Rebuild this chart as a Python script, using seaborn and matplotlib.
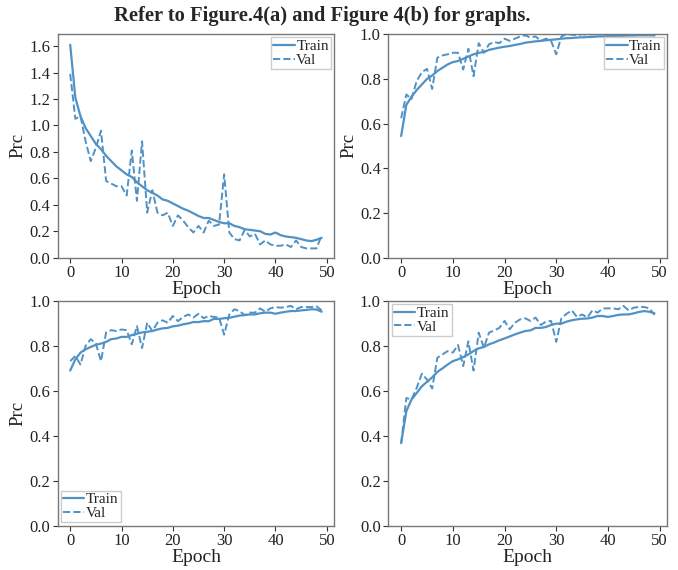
import numpy as np
import pandas as pd
import matplotlib
matplotlib.use('Agg')
import matplotlib.pyplot as plt
import seaborn as sns

# ---- data (epochs 0..49) ----
epochs = list(range(50))

a_train = [1.61, 1.21, 1.07, 0.98, 0.92, 0.86, 0.82, 0.77, 0.73, 0.69,
           0.66, 0.63, 0.61, 0.57, 0.54, 0.51, 0.49, 0.47, 0.44, 0.43,
           0.41, 0.39, 0.37, 0.355, 0.335, 0.315, 0.30, 0.30, 0.285, 0.27,
           0.26, 0.26, 0.24, 0.23, 0.215, 0.21, 0.205, 0.20, 0.18, 0.175,
           0.19, 0.17, 0.16, 0.155, 0.15, 0.14, 0.13, 0.125, 0.135, 0.15]
a_val = [1.39, 1.05, 1.07, 0.88, 0.73, 0.83, 0.96, 0.58, 0.56, 0.54,
         0.54, 0.47, 0.81, 0.43, 0.88, 0.34, 0.51, 0.34, 0.32, 0.34,
         0.24, 0.32, 0.28, 0.23, 0.19, 0.24, 0.19, 0.28, 0.24, 0.25,
         0.63, 0.19, 0.14, 0.13, 0.21, 0.16, 0.18, 0.10, 0.13, 0.10,
         0.09, 0.09, 0.10, 0.08, 0.13, 0.08, 0.07, 0.07, 0.07, 0.17]

b_train = [0.544, 0.684, 0.72, 0.75, 0.775, 0.80, 0.815, 0.835, 0.85, 0.865,
           0.875, 0.88, 0.89, 0.90, 0.91, 0.917, 0.92, 0.93, 0.935, 0.94,
           0.944, 0.947, 0.952, 0.956, 0.962, 0.965, 0.968, 0.97, 0.973, 0.975,
           0.977, 0.98, 0.982, 0.983, 0.985, 0.986, 0.987, 0.988, 0.99, 0.99,
           0.992, 0.992, 0.993, 0.993, 0.994, 0.994, 0.995, 0.995, 0.995, 0.994]
b_val = [0.624, 0.73, 0.71, 0.79, 0.83, 0.845, 0.755, 0.895, 0.905, 0.91,
         0.917, 0.917, 0.842, 0.935, 0.812, 0.96, 0.917, 0.955, 0.965, 0.96,
         0.98, 0.97, 0.98, 0.99, 0.995, 0.985, 0.99, 0.97, 0.98, 0.97,
         0.91, 0.99, 1.0, 0.998, 0.995, 1.0, 0.998, 1.0, 0.999, 1.0,
         0.999, 1.0, 0.999, 1.0, 0.999, 1.0, 0.999, 1.0, 1.0, 0.999]

c_train = [0.69, 0.74, 0.77, 0.785, 0.795, 0.805, 0.81, 0.818, 0.83, 0.833,
           0.84, 0.84, 0.848, 0.854, 0.86, 0.863, 0.866, 0.873, 0.878, 0.88,
           0.887, 0.89, 0.896, 0.90, 0.906, 0.906, 0.91, 0.91, 0.92, 0.92,
           0.923, 0.925, 0.93, 0.935, 0.937, 0.94, 0.94, 0.945, 0.948, 0.948,
           0.943, 0.948, 0.952, 0.955, 0.955, 0.958, 0.96, 0.963, 0.962, 0.952]
c_val = [0.732, 0.755, 0.717, 0.80, 0.83, 0.81, 0.732, 0.86, 0.87, 0.866,
         0.873, 0.87, 0.807, 0.888, 0.79, 0.903, 0.866, 0.903, 0.914, 0.903,
         0.933, 0.91, 0.929, 0.94, 0.926, 0.943, 0.923, 0.933, 0.929, 0.926,
         0.85, 0.94, 0.963, 0.955, 0.937, 0.948, 0.948, 0.967, 0.952, 0.967,
         0.973, 0.97, 0.973, 0.978, 0.963, 0.973, 0.973, 0.973, 0.976, 0.958]

d_train = [0.367, 0.509, 0.561, 0.59, 0.62, 0.64, 0.66, 0.684, 0.70, 0.717,
           0.732, 0.74, 0.75, 0.762, 0.777, 0.789, 0.795, 0.807, 0.815, 0.825,
           0.833, 0.842, 0.851, 0.859, 0.866, 0.869, 0.88, 0.88, 0.884, 0.893,
           0.899, 0.899, 0.908, 0.914, 0.918, 0.921, 0.922, 0.926, 0.933, 0.933,
           0.929, 0.933, 0.938, 0.94, 0.94, 0.945, 0.951, 0.955, 0.952, 0.945]
d_val = [0.367, 0.568, 0.561, 0.613, 0.676, 0.65, 0.61, 0.747, 0.762, 0.777,
         0.77, 0.804, 0.71, 0.82, 0.69, 0.859, 0.792, 0.859, 0.869, 0.88,
         0.911, 0.874, 0.903, 0.918, 0.923, 0.911, 0.926, 0.893, 0.908, 0.911,
         0.818, 0.923, 0.943, 0.958, 0.929, 0.94, 0.926, 0.958, 0.948, 0.967,
         0.967, 0.967, 0.963, 0.978, 0.958, 0.97, 0.973, 0.973, 0.967, 0.938]

LINE_COLOR = '#5092c6'

sns.set_style('ticks')
plt.rcParams['font.family'] = ['Liberation Serif', 'DejaVu Serif']

fig = plt.figure(figsize=(6.78, 5.70), dpi=100)

# axes boxes in figure fractions
boxes = [
    [0.085, 0.548, 0.408, 0.392],
    [0.573, 0.548, 0.411, 0.392],
    [0.085, 0.078, 0.408, 0.394],
    [0.573, 0.078, 0.411, 0.394],
]
panels = [
    (a_train, a_val, (0, 1.69), np.arange(0, 1.61, 0.2), 'upper right', True),
    (b_train, b_val, (0, 1.0), np.arange(0, 1.01, 0.2), 'upper right', True),
    (c_train, c_val, (0, 1.0), np.arange(0, 1.01, 0.2), 'lower left', True),
    (d_train, d_val, (0, 1.0), np.arange(0, 1.01, 0.2), 'upper left', False),
]

for box, (tr, va, ylim, yticks, loc, show_ylabel) in zip(boxes, panels):
    ax = fig.add_axes(box)
    df = pd.DataFrame({'Epoch': epochs, 'Train': tr, 'Val': va})
    sns.lineplot(data=df, x='Epoch', y='Train', ax=ax, color=LINE_COLOR,
                 linewidth=1.6, label='Train')
    sns.lineplot(data=df, x='Epoch', y='Val', ax=ax, color=LINE_COLOR,
                 linewidth=1.4, linestyle='--', label='Val')
    ax.set_xlim(-2.45, 51.45)
    ax.set_ylim(*ylim)
    ax.set_xticks(range(0, 51, 10))
    ax.set_yticks(yticks)
    ax.set_yticklabels([f'{t:.1f}' for t in yticks])
    ax.tick_params(labelsize=12, length=3.5, width=0.8, colors='#333333',
                   labelcolor='#222222', pad=2)
    ax.set_xlabel('Epoch', fontsize=14, labelpad=0, color='#222222')
    ax.set_ylabel('Prc' if show_ylabel else '', fontsize=13.5, labelpad=2,
                  color='#222222')
    for sp in ax.spines.values():
        sp.set_color('#777777')
        sp.set_linewidth(1.0)
    leg = ax.legend(loc=loc, fontsize=11, handlelength=1.4,
                    handletextpad=0.1, borderpad=0.15, labelspacing=0.0,
                    borderaxespad=0.2, fancybox=False, framealpha=1)
    leg.get_frame().set_edgecolor('#cccccc')

fig.text(0.475, 0.972, 'Refer to Figure.4(a) and Figure 4(b) for graphs.',
         ha='center', va='center', fontsize=14.8, fontweight='bold')

fig.savefig('out.png', dpi=100)
